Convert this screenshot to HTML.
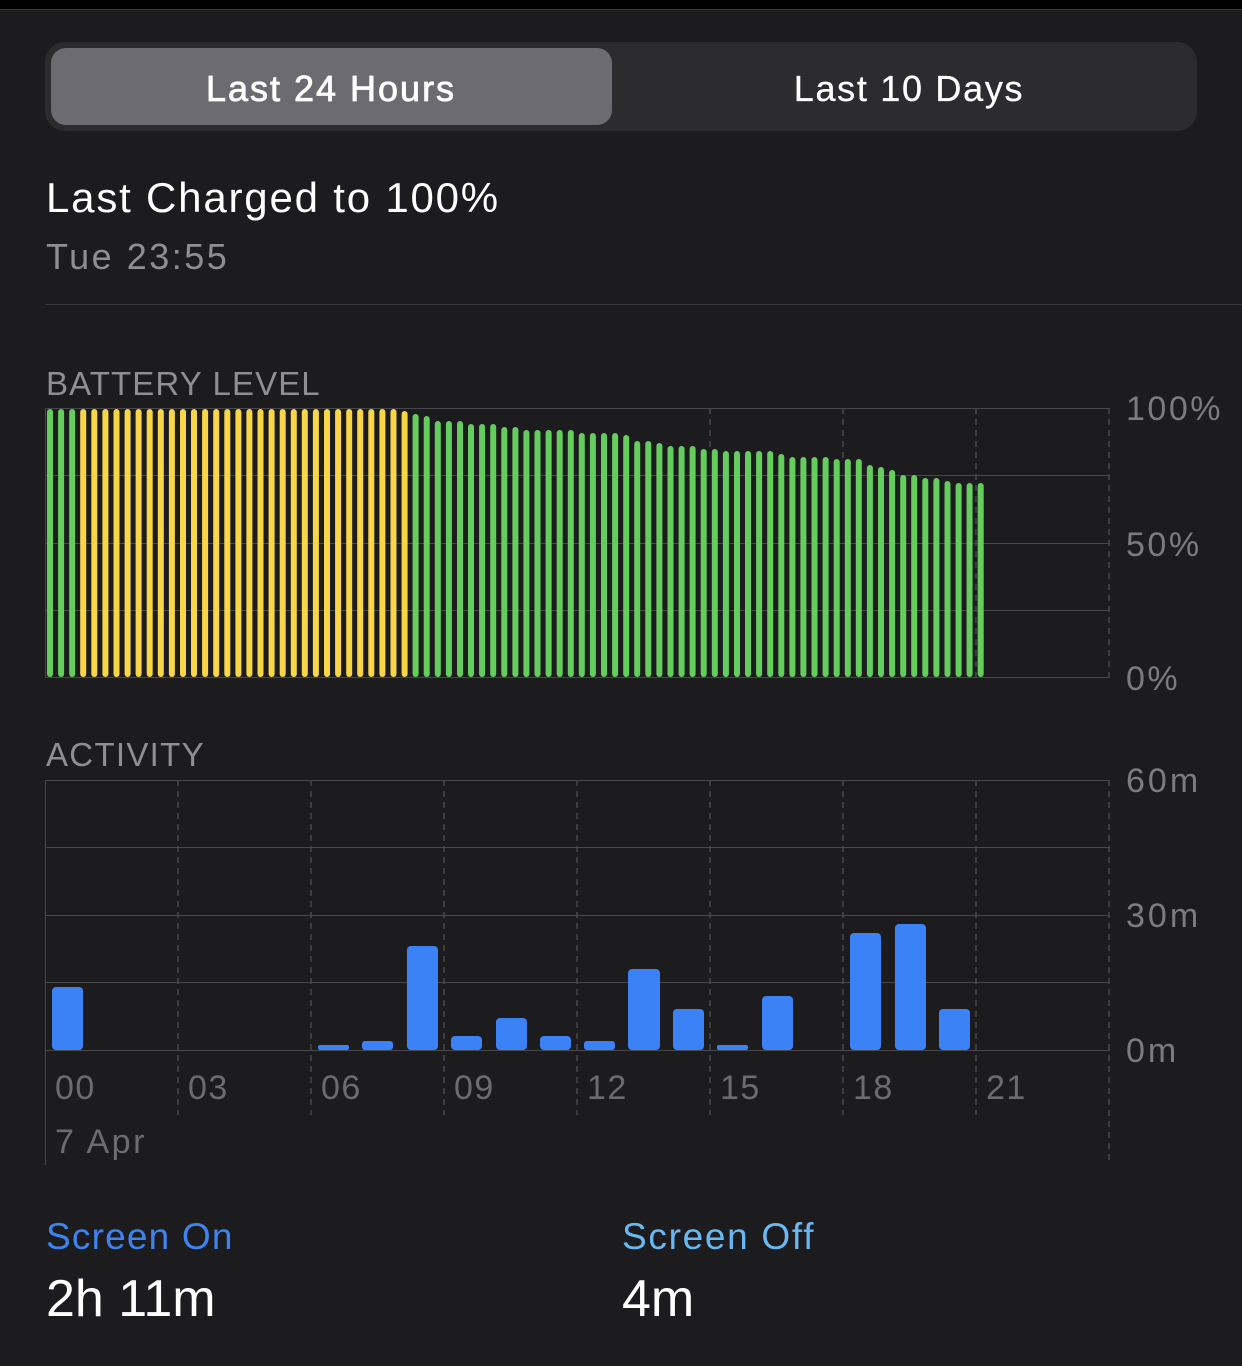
<!DOCTYPE html>
<html><head><meta charset="utf-8"><style>
html,body{margin:0;padding:0;background:#1c1c1e;width:1242px;height:1366px;overflow:hidden}
svg{display:block}
text{font-family:"Liberation Sans","DejaVu Sans",sans-serif}
</style></head><body>
<svg width="1242" height="1366" viewBox="0 0 1242 1366" xmlns="http://www.w3.org/2000/svg">
<rect width="1242" height="1366" fill="#1c1c1e"/>
<rect width="1242" height="9" fill="#000"/>
<rect y="9" width="1242" height="1" fill="#3a3a3c"/>
<!-- segmented -->
<rect x="45" y="42" width="1152" height="89" rx="20" fill="#2c2c2e"/>
<rect x="51" y="48" width="561" height="77" rx="15" fill="#6c6b71"/>
<text x="331" y="101" text-anchor="middle" font-size="36" fill="#fff" stroke="#fff" stroke-width="0.8" letter-spacing="2">Last 24 Hours</text>
<text x="909" y="101" text-anchor="middle" font-size="36" fill="#fff" stroke="#fff" stroke-width="0.3" letter-spacing="1.7">Last 10 Days</text>
<text x="46" y="212" font-size="42" fill="#fff" letter-spacing="1.8">Last Charged to 100%</text>
<text x="46" y="269" font-size="36" fill="#8e8e93" letter-spacing="2.5">Tue 23:55</text>
<rect x="45" y="304" width="1197" height="1" fill="#38383a"/>
<text x="46" y="395" font-size="33" fill="#8e8e93" letter-spacing="1.1">BATTERY LEVEL</text>
<!-- battery grid -->
<g stroke="#48484a" stroke-width="1">
<line x1="45" y1="408.5" x2="1110" y2="408.5"/><line x1="45" y1="475.5" x2="1110" y2="475.5"/>
<line x1="45" y1="543.5" x2="1110" y2="543.5"/><line x1="45" y1="610.5" x2="1110" y2="610.5"/>
<line x1="45" y1="677.5" x2="1110" y2="677.5"/>
</g>
<g stroke="#48484a" stroke-width="1.5" stroke-dasharray="6,5">
<line x1="710" y1="408" x2="710" y2="450"/><line x1="843" y1="408" x2="843" y2="460"/><line x1="976" y1="408" x2="976" y2="677"/><line x1="1109" y1="408" x2="1109" y2="677"/>
</g>
<line x1="45.5" y1="408" x2="45.5" y2="677" stroke="#48484a"/>
<g font-size="34" fill="#7c7c80" letter-spacing="2.5">
<text x="1126" y="420">100%</text><text x="1126" y="556">50%</text><text x="1126" y="690">0%</text>
</g>
<g fill="#65cd5e">
<rect x="47" y="409" width="6" height="268" rx="3"/><rect x="58.1" y="409" width="6" height="268" rx="3"/><rect x="69.2" y="409" width="6" height="268" rx="3"/>
</g>
<g fill="#f8d648">
<rect x="80.2" y="409" width="6" height="268" rx="3"/><rect x="91.3" y="409" width="6" height="268" rx="3"/><rect x="102.4" y="409" width="6" height="268" rx="3"/><rect x="113.5" y="409" width="6" height="268" rx="3"/><rect x="124.6" y="409" width="6" height="268" rx="3"/><rect x="135.6" y="409" width="6" height="268" rx="3"/><rect x="146.7" y="409" width="6" height="268" rx="3"/><rect x="157.8" y="409" width="6" height="268" rx="3"/><rect x="168.9" y="409" width="6" height="268" rx="3"/><rect x="180" y="409" width="6" height="268" rx="3"/><rect x="191" y="409" width="6" height="268" rx="3"/><rect x="202.1" y="409" width="6" height="268" rx="3"/><rect x="213.2" y="409" width="6" height="268" rx="3"/><rect x="224.3" y="409" width="6" height="268" rx="3"/><rect x="235.4" y="409" width="6" height="268" rx="3"/><rect x="246.4" y="409" width="6" height="268" rx="3"/><rect x="257.5" y="409" width="6" height="268" rx="3"/><rect x="268.6" y="409" width="6" height="268" rx="3"/><rect x="279.7" y="409" width="6" height="268" rx="3"/><rect x="290.8" y="409" width="6" height="268" rx="3"/><rect x="301.8" y="409" width="6" height="268" rx="3"/><rect x="312.9" y="409" width="6" height="268" rx="3"/><rect x="324" y="409" width="6" height="268" rx="3"/><rect x="335.1" y="409" width="6" height="268" rx="3"/><rect x="346.2" y="409" width="6" height="268" rx="3"/><rect x="357.2" y="409" width="6" height="268" rx="3"/><rect x="368.3" y="409" width="6" height="268" rx="3"/><rect x="379.4" y="409" width="6" height="268" rx="3"/><rect x="390.5" y="409" width="6" height="268" rx="3"/><rect x="401.6" y="411" width="6" height="266" rx="3"/>
</g>
<g fill="#65cd5e">
<rect x="412.6" y="414" width="6" height="263" rx="3"/><rect x="423.7" y="416" width="6" height="261" rx="3"/><rect x="434.8" y="421" width="6" height="256" rx="3"/><rect x="445.9" y="421" width="6" height="256" rx="3"/><rect x="457" y="421" width="6" height="256" rx="3"/><rect x="468" y="424" width="6" height="253" rx="3"/><rect x="479.1" y="424" width="6" height="253" rx="3"/><rect x="490.2" y="424" width="6" height="253" rx="3"/>
<rect x="501.3" y="427" width="6" height="250" rx="3"/><rect x="512.4" y="427" width="6" height="250" rx="3"/><rect x="523.4" y="430" width="6" height="247" rx="3"/><rect x="534.5" y="430" width="6" height="247" rx="3"/><rect x="545.6" y="430" width="6" height="247" rx="3"/><rect x="556.7" y="430" width="6" height="247" rx="3"/><rect x="567.8" y="430" width="6" height="247" rx="3"/><rect x="578.8" y="433" width="6" height="244" rx="3"/><rect x="589.9" y="433" width="6" height="244" rx="3"/><rect x="601" y="433" width="6" height="244" rx="3"/><rect x="612.1" y="433" width="6" height="244" rx="3"/><rect x="623.2" y="435" width="6" height="242" rx="3"/><rect x="634.2" y="441" width="6" height="236" rx="3"/><rect x="645.3" y="441" width="6" height="236" rx="3"/><rect x="656.4" y="443" width="6" height="234" rx="3"/><rect x="667.5" y="446" width="6" height="231" rx="3"/><rect x="678.6" y="446" width="6" height="231" rx="3"/><rect x="689.6" y="446" width="6" height="231" rx="3"/><rect x="700.7" y="449" width="6" height="228" rx="3"/><rect x="711.8" y="449" width="6" height="228" rx="3"/><rect x="722.9" y="451" width="6" height="226" rx="3"/><rect x="734" y="451" width="6" height="226" rx="3"/><rect x="745" y="451" width="6" height="226" rx="3"/><rect x="756.1" y="451" width="6" height="226" rx="3"/><rect x="767.2" y="451" width="6" height="226" rx="3"/><rect x="778.3" y="454" width="6" height="223" rx="3"/><rect x="789.4" y="457" width="6" height="220" rx="3"/><rect x="800.4" y="457" width="6" height="220" rx="3"/><rect x="811.5" y="457" width="6" height="220" rx="3"/><rect x="822.6" y="457" width="6" height="220" rx="3"/><rect x="833.7" y="459" width="6" height="218" rx="3"/><rect x="844.8" y="459" width="6" height="218" rx="3"/><rect x="855.8" y="459" width="6" height="218" rx="3"/><rect x="866.9" y="465" width="6" height="212" rx="3"/><rect x="878" y="467" width="6" height="210" rx="3"/><rect x="889.1" y="470" width="6" height="207" rx="3"/><rect x="900.2" y="475" width="6" height="202" rx="3"/><rect x="911.2" y="475" width="6" height="202" rx="3"/><rect x="922.3" y="478" width="6" height="199" rx="3"/><rect x="933.4" y="478" width="6" height="199" rx="3"/><rect x="944.5" y="481" width="6" height="196" rx="3"/><rect x="955.6" y="483" width="6" height="194" rx="3"/><rect x="966.6" y="483" width="6" height="194" rx="3"/><rect x="977.7" y="483" width="6" height="194" rx="3"/>
</g>
<!-- activity -->
<text x="46" y="766" font-size="33" fill="#8e8e93" letter-spacing="1.3">ACTIVITY</text>
<g stroke="#48484a" stroke-width="1">
<line x1="45" y1="780.5" x2="1110" y2="780.5"/><line x1="45" y1="847.5" x2="1110" y2="847.5"/>
<line x1="45" y1="915.5" x2="1110" y2="915.5"/><line x1="45" y1="982.5" x2="1110" y2="982.5"/>
<line x1="45" y1="1050.5" x2="1110" y2="1050.5"/>
</g>
<g stroke="#48484a" stroke-width="1.5" stroke-dasharray="6,5">
<line x1="178" y1="780" x2="178" y2="1115"/><line x1="311" y1="780" x2="311" y2="1115"/><line x1="444" y1="780" x2="444" y2="1115"/><line x1="577" y1="780" x2="577" y2="1115"/><line x1="710" y1="780" x2="710" y2="1115"/><line x1="843" y1="780" x2="843" y2="1115"/><line x1="976" y1="780" x2="976" y2="1115"/><line x1="1109" y1="780" x2="1109" y2="1165"/>
</g>
<line x1="45.5" y1="780" x2="45.5" y2="1165" stroke="#48484a"/>
<g font-size="34" fill="#7c7c80" letter-spacing="3">
<text x="1126" y="792">60m</text><text x="1126" y="927">30m</text><text x="1126" y="1062">0m</text>
</g>
<g fill="#3b82f6">
<rect x="52" y="987" width="31" height="63" rx="4"/>
<rect x="318" y="1045" width="31" height="5" rx="2"/>
<rect x="362" y="1041" width="31" height="9" rx="3"/>
<rect x="407" y="946" width="31" height="104" rx="4"/>
<rect x="451" y="1036" width="31" height="14" rx="4"/>
<rect x="496" y="1018" width="31" height="32" rx="4"/>
<rect x="540" y="1036" width="31" height="14" rx="4"/>
<rect x="584" y="1041" width="31" height="9" rx="3"/>
<rect x="628" y="969" width="32" height="81" rx="4"/>
<rect x="673" y="1009" width="31" height="41" rx="4"/>
<rect x="717" y="1045" width="31" height="5" rx="2"/>
<rect x="762" y="996" width="31" height="54" rx="4"/>
<rect x="850" y="933" width="31" height="117" rx="4"/>
<rect x="895" y="924" width="31" height="126" rx="4"/>
<rect x="939" y="1009" width="31" height="41" rx="4"/>
</g>
<g font-size="34" fill="#6c6c70" letter-spacing="1.5">
<text x="55" y="1099">00</text><text x="188" y="1099">03</text><text x="321" y="1099">06</text><text x="454" y="1099">09</text><text x="587" y="1099">12</text><text x="720" y="1099">15</text><text x="853" y="1099">18</text><text x="986" y="1099">21</text>
<text x="55" y="1153" letter-spacing="2.5">7 Apr</text>
</g>
<text x="46" y="1249" font-size="37" fill="#3d84f0" letter-spacing="1.2">Screen On</text>
<text x="622" y="1249" font-size="37" fill="#6ab8f2" letter-spacing="1.7">Screen Off</text>
<text x="46" y="1316" font-size="52" fill="#fff">2h 11m</text>
<text x="622" y="1316" font-size="52" fill="#fff">4m</text>
</svg>
</body></html>
